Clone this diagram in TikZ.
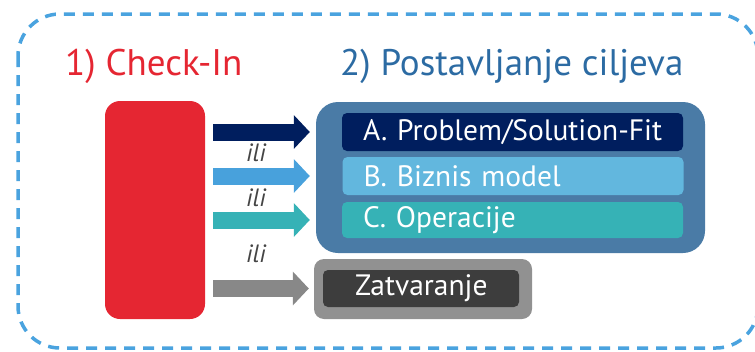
\documentclass[tikz,border=0pt]{standalone}
\usepackage{fontspec}
\setmainfont{PT Sans}
\usetikzlibrary{arrows.meta}

\definecolor{checkred}{HTML}{E52632}
\definecolor{goalblue}{HTML}{2C6BA3}
\definecolor{goalfill}{HTML}{4A7BA6}
\definecolor{navy}{HTML}{001E5E}
\definecolor{skyfill}{HTML}{62B7DE}
\definecolor{tealfill}{HTML}{36B2B6}
\definecolor{arrowsky}{HTML}{48A1DC}
\definecolor{dashblue}{HTML}{4AA3DF}
\definecolor{closeouter}{HTML}{919191}
\definecolor{closeinner}{HTML}{3D3D3D}
\definecolor{arrowgray}{HTML}{888888}
\definecolor{iligray}{HTML}{454545}

\tikzset{
  heading/.style={anchor=base west, inner sep=0pt, font=\fontsize{37}{42}\selectfont},
  bar/.style={rounded corners=5pt, text=white, minimum height=38pt,
    text width=299pt, inner xsep=21pt, align=left,
    font=\fontsize{29.5}{34}\selectfont},
  flow/.style={line width=17pt, draw=#1, -{Triangle[length=16pt,width=33pt]}},
  ili/.style={anchor=base, inner sep=0pt, text=iligray,
    font=\fontsize{25}{28}\selectfont\itshape}
}

\begin{document}
\begin{tikzpicture}[x=1pt, y=-1pt]
\useasboundingbox (0,0) rectangle (755,351);
% frame
\draw[dashblue, line width=3.5pt, dash pattern=on 11pt off 8pt, rounded corners=42pt]
  (18,14) rectangle (758,348);
% headings
\node[heading, text=checkred] (h1) at (65,75) {1) Check-In};
\node[heading, text=goalblue] (h2) at (340,75) {2) Postavljanje ciljeva};
% left block
\node[fill=checkred, rounded corners=15pt, minimum width=100pt, minimum height=218pt] (checkin) at (155,210) {};
% goals
\node[fill=goalfill, rounded corners=22pt, minimum width=389pt, minimum height=151pt] (goals) at (510.5,177.5) {};
\node[bar, fill=navy] (probfit) at (512.5,132) {\mbox{A. Problem/Solution-Fit}};
\node[bar, fill=skyfill] (biz) at (513,176) {\mbox{B. Biznis model}};
\node[bar, fill=tealfill, minimum height=36pt] (ops) at (512.5,220) {\mbox{C. Operacije}};
% closing
\node[fill=closeouter, rounded corners=10pt, minimum width=218pt, minimum height=60pt] (closing) at (423,289) {};
\node[fill=closeinner, rounded corners=5pt, text=white, minimum height=37pt,
  text width=132pt, inner xsep=32pt, align=left, font=\fontsize{29.5}{34}\selectfont]
  (close) at (421,288.5) {\mbox{Zatvaranje}};
% arrows
\draw[flow=navy] ([xshift=8pt]checkin.east |- probfit.west) -- ([xshift=-6pt]goals.west |- probfit.west);
\draw[flow=arrowsky] ([xshift=8pt]checkin.east |- biz.west) -- ([xshift=-6pt]goals.west |- biz.west);
\draw[flow=tealfill] ([xshift=8pt]checkin.east |- ops.west) -- ([xshift=-6pt]goals.west |- ops.west);
\draw[flow=arrowgray] ([xshift=8pt]checkin.east |- close.west) -- ([xshift=-5pt]closing.west |- close.west);
% ili
\node[ili] (ili1) at (256,161) {ili};
\node[ili] (ili2) at (256,206) {ili};
\node[ili] (ili3) at (256,262) {ili};
\end{tikzpicture}
\end{document}
